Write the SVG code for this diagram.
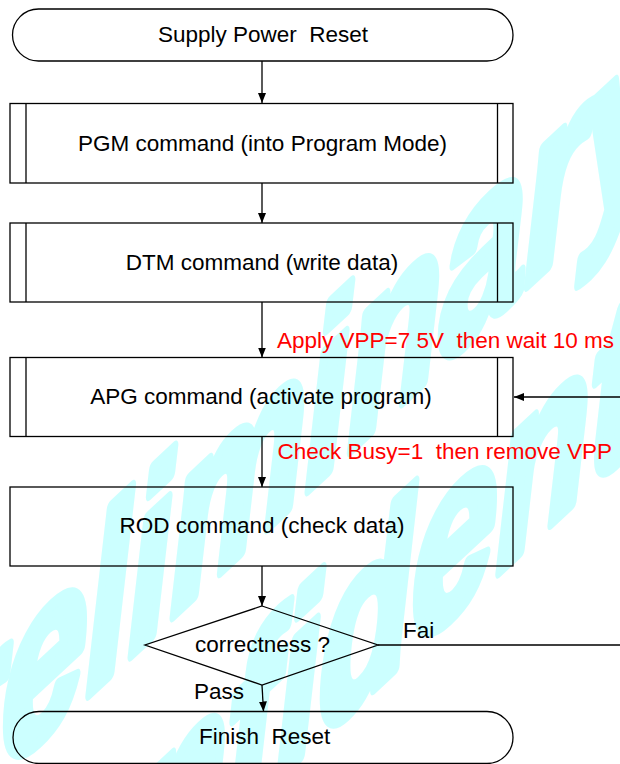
<svg xmlns="http://www.w3.org/2000/svg" width="620" height="764" viewBox="0 0 620 764" xml:space="preserve">
<defs>
<marker id="arr" markerUnits="userSpaceOnUse" markerWidth="11" markerHeight="9" refX="10" refY="4" orient="auto">
<path d="M0,0 L10,4 L0,8 z" fill="#000"/>
</marker>
<style>
.s{fill:none;stroke:#000;stroke-width:1.3}
.t{font-family:"Liberation Sans",Arial,sans-serif;font-size:22.5px;fill:#000;white-space:pre}
.m{text-anchor:middle}
.r{fill:#ff0000}
.c{fill:none;stroke:#000;stroke-width:1.3;marker-end:url(#arr)}
.w{font-family:"Liberation Sans",Arial,sans-serif;font-weight:bold;font-style:italic;font-size:230px;fill:#ccffff;stroke:#ccffff;stroke-width:13;stroke-linejoin:round}
</style>
</defs>
<rect width="620" height="764" fill="#fff"/>
<g id="watermark" transform="skewY(-43) scale(0.66 1)">
<text class="w" x="-239" y="777">Preliminary</text>
<text class="w" x="-103" y="1037">Confidential</text>
</g>
<g id="connectors">
<line class="c" x1="262" y1="61" x2="262" y2="103"/>
<line class="c" x1="262" y1="183" x2="262" y2="223"/>
<line class="c" x1="262" y1="302" x2="262" y2="357.5"/>
<line class="c" x1="262" y1="437" x2="262" y2="487"/>
<line class="c" x1="262" y1="566" x2="262" y2="606"/>
<line class="c" x1="262" y1="685" x2="263.5" y2="711.5"/>
<path class="c" d="M378,645 H640 V397 H514"/>
</g>
<g id="start">
<rect class="s" x="12.5" y="9" width="500.5" height="52" rx="26"/>
<text class="t m" x="263" y="42">Supply Power  Reset</text>
</g>
<g id="pgm">
<rect class="s" x="10" y="103.5" width="503" height="79.5"/>
<line class="s" x1="26" y1="103.5" x2="26" y2="183"/>
<line class="s" x1="497.5" y1="103.5" x2="497.5" y2="183"/>
<text class="t m" x="262.5" y="151">PGM command (into Program Mode)</text>
</g>
<g id="dtm">
<rect class="s" x="10" y="223" width="503" height="79"/>
<line class="s" x1="26" y1="223" x2="26" y2="302"/>
<line class="s" x1="497.5" y1="223" x2="497.5" y2="302"/>
<text class="t m" x="262" y="270">DTM command (write data)</text>
</g>
<text id="label-vpp" class="t r" x="277" y="348">Apply VPP=7 5V  then wait 10 ms</text>
<g id="apg">
<rect class="s" x="10" y="357.5" width="503" height="79"/>
<line class="s" x1="26" y1="357.5" x2="26" y2="436.5"/>
<line class="s" x1="497.5" y1="357.5" x2="497.5" y2="436.5"/>
<text class="t m" x="261" y="404">APG command (activate program)</text>
</g>
<text id="label-busy" class="t r" x="277.5" y="459">Check Busy=1  then remove VPP</text>
<g id="rod">
<rect class="s" x="10" y="487" width="503" height="79"/>
<text class="t m" x="262" y="533">ROD command (check data)</text>
</g>
<g id="check">
<path class="s" d="M262,606 L378,645 L262,685 L145,645 Z"/>
<text class="t" x="195" y="652">correctness ?</text>
</g>
<text id="label-fail" class="t" x="403" y="638">Fai</text>
<text id="label-pass" class="t" x="194" y="699">Pass</text>
<g id="finish">
<rect class="s" x="13" y="711.5" width="500" height="52" rx="26"/>
<text class="t" x="199" y="744">Finish  Reset</text>
</g>
</svg>
